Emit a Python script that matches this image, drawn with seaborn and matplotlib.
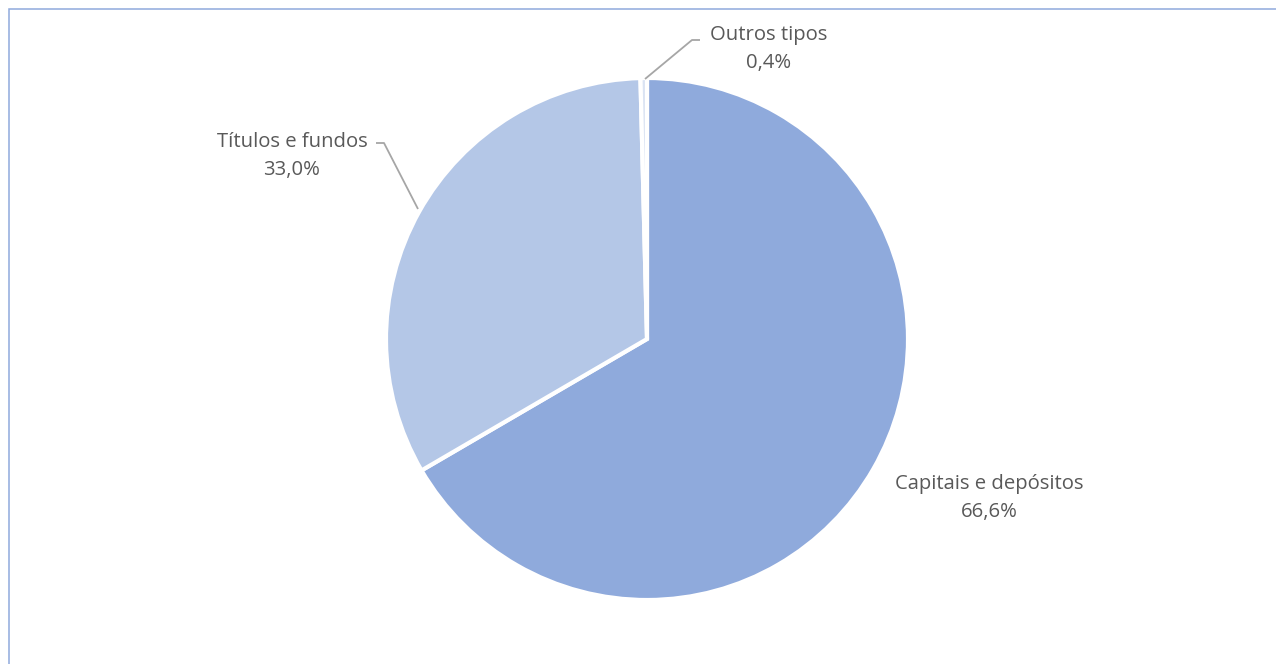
import matplotlib
matplotlib.use("Agg")
import matplotlib.pyplot as plt
import seaborn as sns
from matplotlib.patches import Rectangle

categories = ["Capitais e depósitos", "Títulos e fundos", "Outros tipos"]
values = [66.6, 33.0, 0.4]
value_labels = ["66,6%", "33,0%", "0,4%"]
colors = ["#8FAADC", "#B4C7E7", "#DAE3F3"]

sns.set_theme(style="white")
plt.rcParams['font.family'] = ['Open Sans', 'DejaVu Sans']

W, H = 1276, 664
fig = plt.figure(figsize=(W / 100, H / 100), dpi=100)
fig.patch.set_facecolor("white")
ax = fig.add_axes([0, 0, 1, 1])

cx, cy, R = 647, H - 339, 261
ax.pie(values, colors=colors, startangle=90, counterclock=False,
       center=(cx, cy), radius=R, frame=True,
       wedgeprops=dict(edgecolor="white", linewidth=3.0))
ax.set_xlim(0, W)
ax.set_ylim(0, H)
ax.set_aspect("equal")
ax.axis("off")

tc = "#595959"
fs = 14.6
# label positions (pixel coords from top)
label_pos = [(989, 484), (292, 142), (769, 35)]
for name, vl, (x, y) in zip(categories, value_labels, label_pos):
    ax.text(x, H - y, name, ha="center", va="center", fontsize=fs, color=tc)
    ax.text(x, H - y - 28, vl, ha="center", va="center", fontsize=fs, color=tc)

lc = "#A6A6A6"
# leader lines
ax.plot([376, 384, 418], [H - 143, H - 143, H - 209], color=lc, lw=1.3, solid_capstyle="butt")
ax.plot([645, 692, 700], [H - 79, H - 40, H - 40], color=lc, lw=1.3, solid_capstyle="butt")

# outer border
fig.patches.append(Rectangle((8.5 / W, -0.1), 1.2, (H - 8.5) / H + 0.1,
                             transform=fig.transFigure, fill=False,
                             edgecolor="#8FAADC", linewidth=1.1))

fig.savefig("out.png", dpi=100)
